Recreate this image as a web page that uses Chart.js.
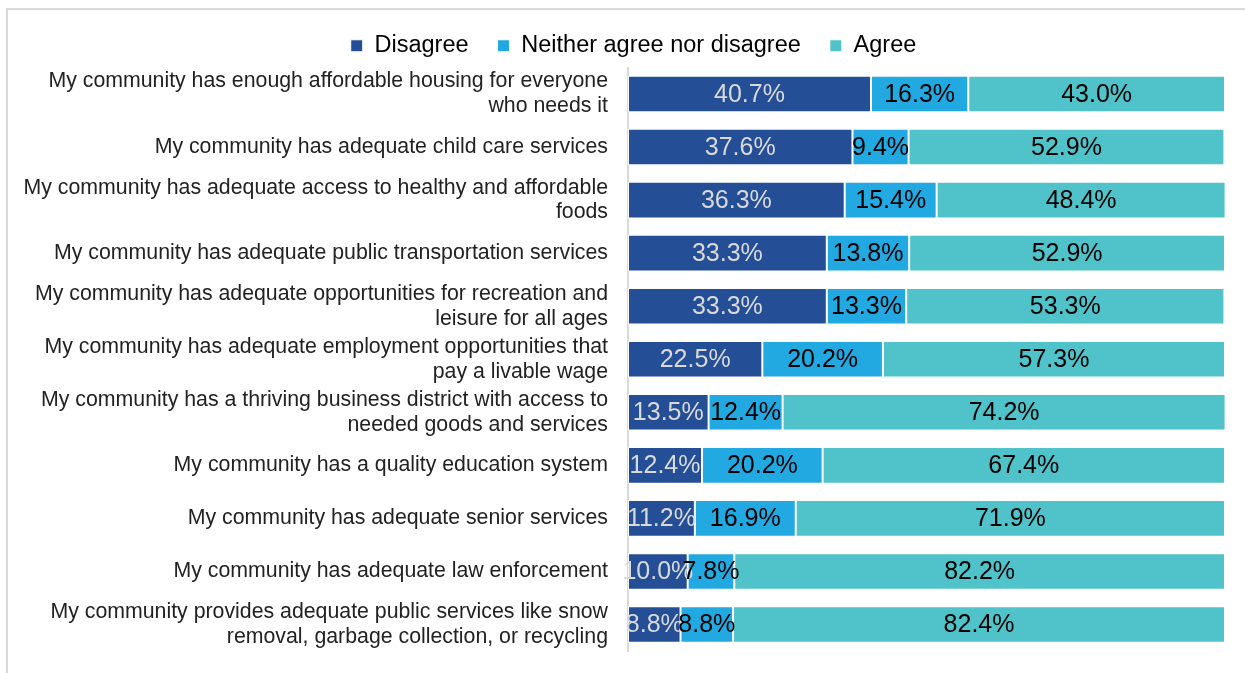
<!DOCTYPE html>
<html>
<head>
<meta charset="utf-8">
<script src="https://cdn.jsdelivr.net/npm/chart.js@4"></script>
<style>
  html, body { margin: 0; padding: 0; background: #fff; overflow: hidden; }
  #wrap { position: relative; width: 1245px; height: 673px; }
  #frame { position: absolute; left: 6px; top: 8px; width: 1300px; height: 700px; border: 2px solid #d9d9d9; box-sizing: border-box; }
  canvas { position: absolute; left: 0; top: 0; }
</style>
</head>
<body>
<div id="wrap">
  <div id="frame"></div>
  <canvas id="chart" width="1245" height="673"></canvas>
</div>
<script>
const categories = [
  ["My community has enough affordable housing for everyone", "who needs it"],
  "My community has adequate child care services",
  ["My community has adequate access to healthy and affordable", "foods"],
  "My community has adequate public transportation services",
  ["My community has adequate opportunities for recreation and", "leisure for all ages"],
  ["My community has adequate employment opportunities that", "pay a livable wage"],
  ["My community has a thriving business district with access to", "needed goods and services"],
  "My community has a quality education system",
  "My community has adequate senior services",
  "My community has adequate law enforcement",
  ["My community provides adequate public services like snow", "removal, garbage collection, or recycling"]
];

const disagree = [40.7, 37.6, 36.3, 33.3, 33.3, 22.5, 13.5, 12.4, 11.2, 10.0, 8.8];
const neither = [16.3, 9.4, 15.4, 13.8, 13.3, 20.2, 12.4, 20.2, 16.9, 7.8, 8.8];
const agree = [43.0, 52.9, 48.4, 52.9, 53.3, 57.3, 74.2, 67.4, 71.9, 82.2, 82.4];

const seriesNames = ["Disagree", "Neither agree nor disagree", "Agree"];
const seriesColors = ["#244f96", "#23a9e1", "#4fc3c9"];
const labelColors = ["#d9d9d9", "#000000", "#000000"];

const ctx = document.getElementById("chart").getContext("2d");

const barLabels = {
  id: "barLabels",
  afterDatasetsDraw(chart) {
    const c = chart.ctx;
    c.save();
    c.font = "25px 'Liberation Sans', Arial, sans-serif";
    c.textAlign = "center";
    c.textBaseline = "middle";
    chart.data.datasets.forEach((ds, i) => {
      const meta = chart.getDatasetMeta(i);
      c.fillStyle = labelColors[i];
      meta.data.forEach((bar, j) => {
        const x = (bar.x + bar.base) / 2;
        c.fillText(ds.data[j].toFixed(1) + "%", x, bar.y + 1);
      });
    });
    c.restore();
  }
};

// legend in the original sits a bit right of centre
const legendShift = {
  id: "legendShift",
  afterLayout(chart) {
    chart.legend.left += 17;
    chart.legend.right += 17;
  }
};

new Chart(ctx, {
  type: "bar",
  data: {
    labels: categories,
    datasets: [disagree, neither, agree].map((d, i) => ({
      label: seriesNames[i],
      data: d,
      backgroundColor: seriesColors[i],
      borderColor: "#ffffff",
      borderWidth: 1,
      borderSkipped: false,
      categoryPercentage: 0.69,
      barPercentage: 1
    }))
  },
  options: {
    indexAxis: "y",
    responsive: false,
    animation: false,
    layout: { padding: { left: 8, right: 20, top: 5, bottom: 0 } },
    plugins: {
      legend: {
        position: "top",
        labels: {
          color: "#000",
          font: { size: 23.5, family: "'Liberation Sans', Arial, sans-serif" },
          boxWidth: 12,
          boxHeight: 12,
          padding: 29
        }
      },
      tooltip: { enabled: false }
    },
    scales: {
      x: {
        stacked: true,
        min: 0,
        max: 100,
        display: false
      },
      y: {
        stacked: true,
        grid: {
          display: true,
          color: "rgba(0,0,0,0)",
          drawOnChartArea: false,
          drawTicks: true,
          tickLength: 20
        },
        border: { display: true, color: "#d9d9d9", width: 2 },
        ticks: {
          color: "#222",
          padding: 0,
          font: { size: 21.3, family: "'Liberation Sans', Arial, sans-serif", lineHeight: 1.17 }
        },
        afterFit(scale) {
          scale.width = 620;
          scale.paddingBottom = 22;
        }
      }
    }
  },
  plugins: [barLabels, legendShift]
});
</script>
</body>
</html>
